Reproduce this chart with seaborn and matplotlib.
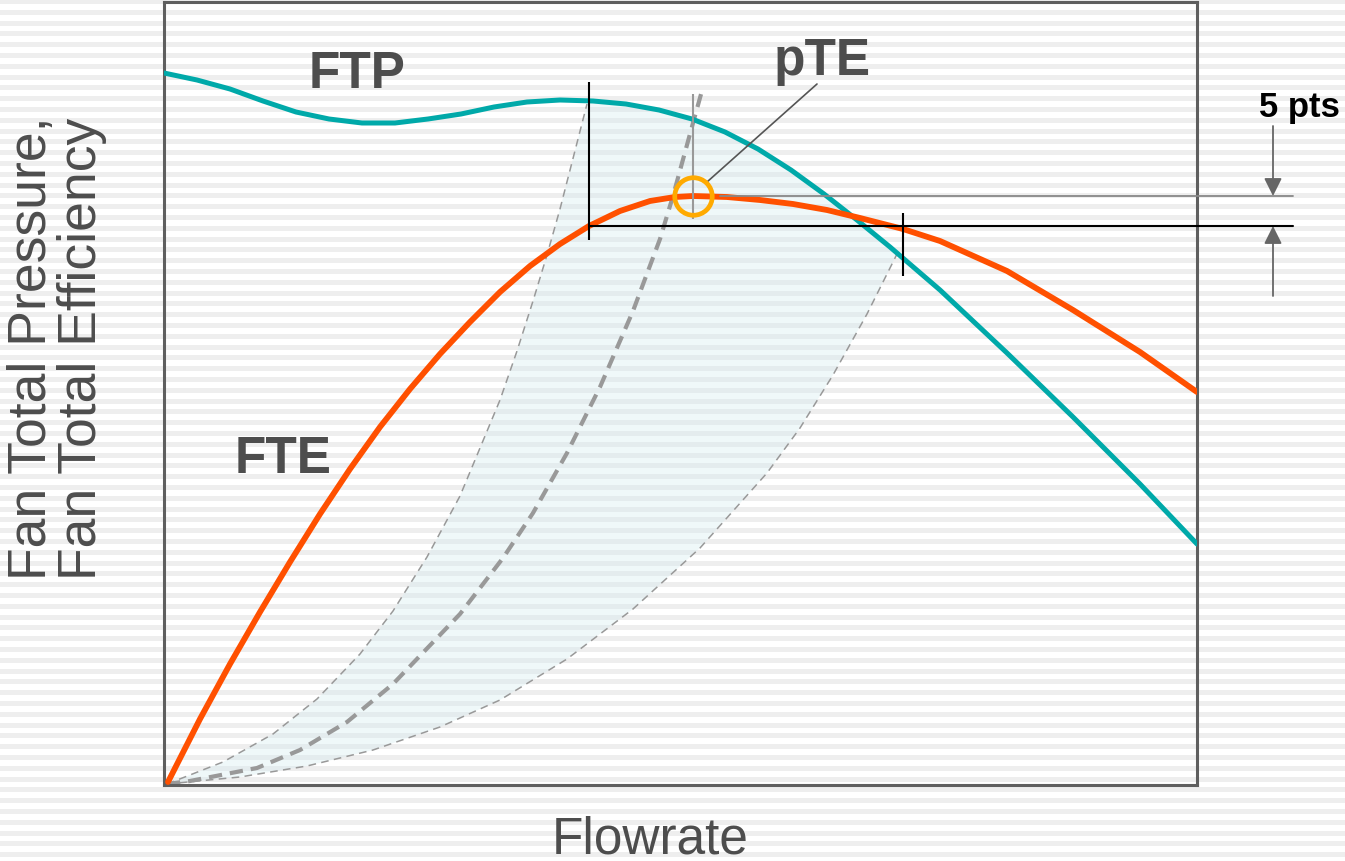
import numpy as np
import pandas as pd
import seaborn as sns
import matplotlib
matplotlib.use("Agg")
import matplotlib.pyplot as plt

# %% Curve data (flowrate / value units, axis span 0-1033 x 0-783)
ftp_flow = [0, 33, 66, 99, 132, 165, 198, 231, 264, 297, 330, 363, 396, 429, 462,
            495, 528, 561, 594, 627, 660, 693, 726, 776, 843, 909, 976, 1033]
ftp_value = [712, 705, 696, 684, 673, 666, 662, 662, 666, 671, 678, 683, 685, 684, 681,
             675, 666, 653, 636, 615, 591, 565, 538, 495, 432, 368, 301, 241]

fte_flow = [4, 36, 66, 96, 126, 156, 186, 216, 246, 276, 306, 336, 366, 396, 425,
            456, 486, 511, 529, 563, 596, 629, 663, 696, 739, 776, 843, 909, 976, 1033]
fte_value = [3, 66, 121, 173, 223, 271, 316, 358, 396, 431, 463, 493, 519, 541, 559,
             574, 584, 588, 589, 588, 585, 581, 575, 567, 556, 544, 514, 475, 433, 393]

# system curves: design (middle) and the two bounds of the band
sys_mid_flow = [3, 26, 93, 136, 183, 229, 296, 339, 369, 403, 436, 469, 496, 509, 529, 539]
sys_mid_value = [1, 4, 17, 35, 63, 101, 171, 227, 272, 332, 398, 474, 546, 589, 662, 698]

sys_hi_flow = [3, 59, 109, 153, 196, 229, 263, 296, 336, 353, 369, 383, 396, 423]
sys_hi_value = [1, 23, 51, 86, 131, 174, 228, 289, 385, 434, 484, 530, 576, 681]

sys_lo_flow = [3, 76, 143, 209, 276, 336, 403, 469, 536, 603, 636, 669, 703, 733]
sys_lo_value = [1, 8, 19, 35, 58, 85, 126, 176, 237, 312, 357, 410, 471, 531]

# peak total efficiency and the operating range where FTE is within 5 pts
peak_flow, peak_fte = 529, 589
range_flows = [425, 739]
range_fte = 559

# %% Styling
sns.set_theme(style="white")
plt.rcParams["font.family"] = ["Liberation Sans", "DejaVu Sans"]

TEAL = "#00a9a9"
ORANGE = "#ff5000"
GOLD = "#ffaa00"
DASH = "#999999"
TXT = "#4d4d4d"

fig = plt.figure(figsize=(13.45, 8.62), dpi=100)

# striped backdrop
bg = fig.add_axes([0, 0, 1, 1], zorder=-10)
bg.set_xlim(0, 1345)
bg.set_ylim(862, 0)
bg.set_facecolor("#f8f8f8")
for y0 in np.arange(0, 862, 10.8):
    bg.axhspan(y0, y0 + 5, color="#eeeeee", lw=0)
bg.axis("off")

ax = fig.add_axes([164 / 1345, 76 / 862, 1033 / 1345, 783 / 862])
ax.set_facecolor("none")
ax.set_xlim(0, 1033)
ax.set_ylim(0, 783)
ax.set_xticks([])
ax.set_yticks([])
for s in ax.spines.values():
    s.set_color("#5f5f5f")
    s.set_linewidth(2.2)

ftp = pd.DataFrame({"flow": ftp_flow, "value": ftp_value})
fte = pd.DataFrame({"flow": fte_flow, "value": fte_value})

# shaded band between the system-curve bounds, capped by FTP
band_top = ftp[(ftp.flow > sys_hi_flow[-1]) & (ftp.flow < sys_lo_flow[-1])]
poly_x = list(sys_hi_flow) + list(band_top.flow) + list(sys_lo_flow[::-1])
poly_y = list(sys_hi_value) + list(band_top.value) + list(sys_lo_value[::-1])
ax.fill(poly_x, poly_y, color="#d3ebee", alpha=0.35, lw=0, zorder=1)

sns.lineplot(x=sys_hi_flow, y=sys_hi_value, sort=False, color=DASH, lw=1.1,
             linestyle=(0, (5, 3.5)), ax=ax, zorder=2)
sns.lineplot(x=sys_lo_flow, y=sys_lo_value, sort=False, color=DASH, lw=1.1,
             linestyle=(0, (5, 3.5)), ax=ax, zorder=2)
sns.lineplot(x=sys_mid_flow, y=sys_mid_value, sort=False, color=DASH, lw=3,
             linestyle=(0, (3.2, 1.9)), ax=ax, zorder=2)

sns.lineplot(data=ftp, x="flow", y="value", sort=False, color=TEAL, lw=3.6, ax=ax,
             zorder=4, solid_joinstyle="round")
sns.lineplot(data=fte, x="flow", y="value", sort=False, color=ORANGE, lw=4.2, ax=ax,
             zorder=5, solid_joinstyle="round")
ax.set_xlabel("")
ax.set_ylabel("")

# operating range markers
ax.plot([range_flows[0], 1129], [range_fte, range_fte], color="black", lw=1.5,
        clip_on=False, zorder=6)
ax.plot([peak_flow + 27, 1129], [peak_fte, peak_fte], color="#888888", lw=1.3,
        clip_on=False, zorder=6)
ax.vlines(range_flows[0], range_fte - 14, range_fte + 144, color="black", lw=1.5, zorder=6)
ax.vlines(range_flows[1], range_fte - 50, range_fte + 13, color="black", lw=1.5, zorder=6)
ax.vlines(peak_flow, peak_fte - 23, peak_fte + 102, color="#999999", lw=1.5, zorder=6)
ax.plot([peak_flow], [peak_fte], marker="o", ms=27, mfc="none", mec=GOLD, mew=3.4,
        zorder=7)

# 5 pts arrows
arrow = dict(arrowstyle="-|>,head_length=0.9,head_width=0.45", color="#666666", lw=1.3,
             shrinkA=0, shrinkB=0)
ax.annotate("", xy=(1109, peak_fte), xytext=(1109, peak_fte + 70), arrowprops=arrow,
            annotation_clip=False)
ax.annotate("", xy=(1109, range_fte), xytext=(1109, range_fte - 70), arrowprops=arrow,
            annotation_clip=False)
ax.text(1135, 679, "5 pts", ha="center", va="center", fontsize=25, fontweight="bold",
        color="black", clip_on=False)

# labels
ax.text(193, 711, "FTP", ha="center", va="center", fontsize=37, fontweight="bold", color=TXT)
ax.text(119, 326, "FTE", ha="center", va="center", fontsize=37, fontweight="bold", color=TXT)
ax.text(658, 724, "pTE", ha="center", va="center", fontsize=37, fontweight="bold", color=TXT)
ax.plot([peak_flow + 14, 653], [peak_fte + 14, 701], color="#555555", lw=1.2, zorder=6)

fig.text(650 / 1345, 1 - 840 / 862, "Flowrate", ha="center", va="center", fontsize=37,
         color=TXT)
fig.text(32 / 1345, 1 - 580 / 862, "Fan Total Pressure,", rotation=90, ha="center",
         va="bottom", fontsize=38.5, color=TXT)
fig.text(82 / 1345, 1 - 580 / 862, "Fan Total Efficiency", rotation=90, ha="center",
         va="bottom", fontsize=38.5, color=TXT)

fig.savefig("out.png", dpi=100)
